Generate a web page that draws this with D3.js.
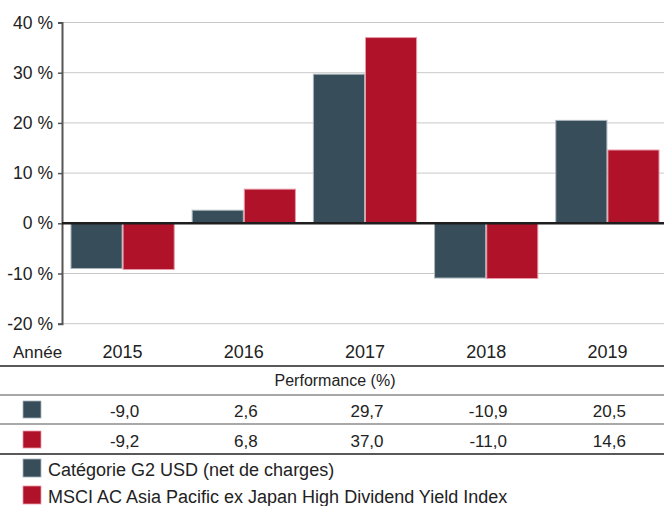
<!DOCTYPE html>
<html>
<head>
<meta charset="utf-8">
<script src="https://cdn.jsdelivr.net/npm/d3@7"></script>
<style>
  body { margin: 0; background: #fff; }
  svg { display: block; font-family: "Liberation Sans", Arial, sans-serif; }
</style>
</head>
<body>
<svg id="chart" width="664" height="506"></svg>
<script>
// data
const years = ["2015", "2016", "2017", "2018", "2019"];
const seriesNames = ["Catégorie G2 USD (net de charges)", "MSCI AC Asia Pacific ex Japan High Dividend Yield Index"];
const fundValues = [-9.0, 2.6, 29.7, -10.9, 20.5];
const indexValues = [-9.2, 6.8, 37.0, -11.0, 14.6];
const yTicks = [-20, -10, 0, 10, 20, 30, 40];
const colors = ["#374d59", "#af1229"];
const strokes = ["#a9b4ba", "#e89aa6"];

const svg = d3.select("#chart");
const W = 664;

const fmt = v => d3.format(".1f")(v).replace(".", ",").replace("−", "-");

const x = d3.scaleBand()
    .domain(years)
    .range([62, 668])
    .paddingInner(0.14)
    .paddingOuter(0.07);

const x1 = d3.scaleBand()
    .domain([0, 1])
    .range([0, x.bandwidth()]);

const y = d3.scaleLinear()
    .domain([-20, 40])
    .range([323.7, 22.5]);

//gridlines
svg.append("g")
    .selectAll("line")
    .data(yTicks.filter(d => d !== 0))
    .enter()
    .append("line")
    .attr("x1", 62)
    .attr("x2", W)
    .attr("y1", d => y(d))
    .attr("y2", d => y(d))
    .attr("stroke", "#c9c9c9")
    .attr("stroke-width", 1);

//y axis
const yAxis = svg.append("g")
    .attr("transform", "translate(62,0)")
    .call(d3.axisLeft(y).tickValues(yTicks).tickSize(4).tickPadding(5)
        .tickFormat(d => (d < 0 ? "-" + Math.abs(d) : d) + " %"));
yAxis.select(".domain").attr("stroke", "#555").attr("stroke-width", 2);
yAxis.selectAll(".tick line").attr("stroke", "#555").attr("stroke-width", 1.5);
yAxis.selectAll(".tick text")
    .attr("fill", "#222")
    .style("font-size", "17.5px")
    .style("font-family", "Liberation Sans, Arial, sans-serif");

//bars
const barData = years.flatMap((yr, i) => [
    { year: yr, s: 0, v: fundValues[i] },
    { year: yr, s: 1, v: indexValues[i] }
]);

svg.append("g")
    .selectAll("rect")
    .data(barData)
    .enter()
    .append("rect")
    .attr("x", d => x(d.year) + x1(d.s) + 0.5)
    .attr("width", x1.bandwidth() - 1)
    .attr("y", d => y(Math.max(0, d.v)))
    .attr("height", d => Math.abs(y(d.v) - y(0)))
    .attr("fill", d => colors[d.s])
    .attr("stroke", d => strokes[d.s])
    .attr("stroke-width", 1);

//zero line
svg.append("line")
    .attr("x1", 62)
    .attr("x2", W)
    .attr("y1", y(0))
    .attr("y2", y(0))
    .attr("stroke", "#1e1e1e")
    .attr("stroke-width", 2.5);

//year labels
svg.append("text")
    .attr("x", 13)
    .attr("y", 358)
    .attr("fill", "#222")
    .style("font-size", "17px")
    .text("Année");

svg.append("g")
    .selectAll("text")
    .data(years)
    .enter()
    .append("text")
    .attr("x", d => x(d) + x.bandwidth() / 2)
    .attr("y", 358)
    .attr("text-anchor", "middle")
    .attr("fill", "#222")
    .style("font-size", "18px")
    .text(d => d);

//table rules
const rules = [
    { y: 366, c: "#222", w: 1.5 },
    { y: 395, c: "#8a8a8a", w: 1.5 },
    { y: 424, c: "#555", w: 1.2 },
    { y: 454, c: "#222", w: 1.5 }
];
svg.append("g")
    .selectAll("line")
    .data(rules)
    .enter()
    .append("line")
    .attr("x1", 0)
    .attr("x2", W)
    .attr("y1", d => d.y)
    .attr("y2", d => d.y)
    .attr("stroke", d => d.c)
    .attr("stroke-width", d => d.w);

svg.append("text")
    .attr("x", 335)
    .attr("y", 386)
    .attr("text-anchor", "middle")
    .attr("fill", "#222")
    .style("font-size", "16px")
    .text("Performance (%)");

//table rows
const rows = [fundValues, indexValues];
const rowY = [417, 447];

rows.forEach((vals, r) => {
    svg.append("rect")
        .attr("x", 23)
        .attr("y", rowY[r] - 16)
        .attr("width", 18)
        .attr("height", 17)
        .attr("fill", colors[r])
        .attr("stroke", strokes[r])
        .attr("stroke-width", 0.8);

    svg.append("g")
        .selectAll("text")
        .data(vals)
        .enter()
        .append("text")
        .attr("x", (d, i) => x(years[i]) + x.bandwidth() / 2 + 2)
        .attr("y", rowY[r])
        .attr("text-anchor", "middle")
        .attr("fill", "#222")
        .style("font-size", "17px")
        .text(d => fmt(d));
});

//legend
const legendY = [476, 503];
seriesNames.forEach((name, i) => {
    svg.append("rect")
        .attr("x", 23)
        .attr("y", legendY[i] - 17)
        .attr("width", 18)
        .attr("height", 18)
        .attr("fill", colors[i])
        .attr("stroke", strokes[i])
        .attr("stroke-width", 0.8);

    svg.append("text")
        .attr("x", 48)
        .attr("y", legendY[i])
        .attr("fill", "#222")
        .style("font-size", "18px")
        .text(name);
});
</script>
</body>
</html>
